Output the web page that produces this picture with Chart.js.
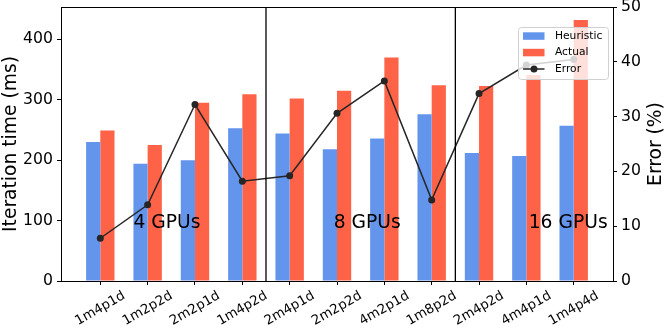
<!DOCTYPE html>
<html>
<head>
<meta charset="utf-8">
<script src="https://cdn.jsdelivr.net/npm/chart.js@4.4.0/dist/chart.umd.min.js"></script>
<style>
  body { margin: 0; background: #fff; }
  canvas { display: block; }
</style>
</head>
<body>
<canvas id="chartCanvas" width="664" height="332"></canvas>
<script>
// configs on x axis
const CATEGORIES = ["1m4p1d", "1m2p2d", "2m2p1d", "1m4p2d", "2m4p1d", "2m2p2d",
                    "4m2p1d", "1m8p2d", "2m4p2d", "4m4p1d", "1m4p4d"];
const HEURISTIC = [230, 194, 200, 253, 244, 218, 236, 276, 212, 207, 257];  // ms
const ACTUAL = [249, 225, 295, 309, 302, 315, 370, 324, 323, 341, 432];     // ms
const ERROR_PCT = [7.8, 13.9, 32.2, 18.2, 19.2, 30.6, 36.5, 14.8, 34.2, 39.4, 40.4];

// group separators and labels
const SEPARATORS = [3.5, 7.5];
const GROUP_LABELS = ["4 GPUs", "8 GPUs", "16 GPUs"];
const GROUP_X = [0.7, 4.93, 9.05];
const GROUP_Y = 96;

const LEFT_TICKS = [0, 100, 200, 300, 400];
const RIGHT_TICKS = [0, 10, 20, 30, 40, 50];

const BLUE = "#6495ED";
const RED = "#FF6347";
const LINE = "#262626";
const FONT = "'DejaVu Sans', sans-serif";

function toXY(values) {
  return values.map((v, i) => ({x: i, y: v}));
}

const decorPlugin = {
  id: "decor",
  afterDatasetsDraw(chart) {
    const ctx = chart.ctx;
    const area = chart.chartArea;
    const xs = chart.scales.x;
    const ys = chart.scales.y;
    ctx.save();

    // separators between gpu groups
    ctx.strokeStyle = "#000";
    ctx.lineWidth = 1.3;
    SEPARATORS.forEach(s => {
      let px = xs.getPixelForValue(s);
      ctx.beginPath();
      ctx.moveTo(px, area.top);
      ctx.lineTo(px, area.bottom);
      ctx.stroke();
    });

    // top spine
    ctx.lineWidth = 1;
    ctx.beginPath();
    ctx.moveTo(area.left, area.top + 0.5);
    ctx.lineTo(area.right, area.top + 0.5);
    ctx.stroke();

    // group labels
    ctx.fillStyle = "#000";
    ctx.font = "18.7px " + FONT;
    ctx.textAlign = "left";
    ctx.textBaseline = "middle";
    for (let i = 0; i < GROUP_LABELS.length; i++) {
      ctx.fillText(GROUP_LABELS[i], xs.getPixelForValue(GROUP_X[i]), ys.getPixelForValue(GROUP_Y));
    }

    // x tick labels, rotated 30deg, centred under tick (matplotlib style)
    ctx.font = "13.3px " + FONT;
    ctx.textAlign = "center";
    ctx.textBaseline = "middle";
    const rot = 30 * Math.PI / 180;
    const h = 13.3 * 1.17;
    CATEGORIES.forEach((c, i) => {
      let w = ctx.measureText(c).width;
      let H = w * Math.sin(rot) + h * Math.cos(rot);
      ctx.save();
      ctx.translate(xs.getPixelForValue(i), area.bottom + 7 + H / 2);
      ctx.rotate(-rot);
      ctx.fillText(c, 0, 0);
      ctx.restore();
    });

    // axis titles
    ctx.font = "18.7px " + FONT;
    ctx.save();
    ctx.translate(11, (area.top + area.bottom) / 2);
    ctx.rotate(-Math.PI / 2);
    ctx.fillText("Iteration time (ms)", 0, 0);
    ctx.restore();
    ctx.save();
    ctx.translate(656, (area.top + area.bottom) / 2);
    ctx.rotate(-Math.PI / 2);
    ctx.fillText("Error (%)", 0, 0);
    ctx.restore();

    // legend box (semi transparent, upper right)
    const lx = 518, ly = 27, lw = 90, lh = 52;
    ctx.fillStyle = "rgba(255,255,255,0.8)";
    ctx.strokeStyle = "#d0d0d0";
    ctx.lineWidth = 1;
    ctx.beginPath();
    ctx.roundRect(lx + 0.5, ly + 0.5, lw, lh, 3);
    ctx.fill();
    ctx.stroke();

    const rows = [ly + 9, ly + 25.5, ly + 42];
    ctx.fillStyle = BLUE;
    ctx.fillRect(523, rows[0] - 3.7, 21.5, 7.5);
    ctx.fillStyle = RED;
    ctx.fillRect(523, rows[1] - 3.7, 21.5, 7.5);
    ctx.strokeStyle = LINE;
    ctx.lineWidth = 1.5;
    ctx.beginPath();
    ctx.moveTo(523, rows[2]);
    ctx.lineTo(544.5, rows[2]);
    ctx.stroke();
    ctx.fillStyle = LINE;
    ctx.beginPath();
    ctx.arc(534, rows[2], 3.5, 0, 2 * Math.PI);
    ctx.fill();

    ctx.fillStyle = "#000";
    ctx.font = "10.7px " + FONT;
    ctx.textAlign = "left";
    ctx.textBaseline = "middle";
    ctx.fillText("Heuristic", 555, rows[0]);
    ctx.fillText("Actual", 555, rows[1]);
    ctx.fillText("Error", 555, rows[2]);

    ctx.restore();
  }
};

const tickGrid = {display: true, drawOnChartArea: false, drawTicks: true, tickLength: 4, color: "#000", lineWidth: 1};

// no extra room for half tick labels at the ends of the y axes
function fixWidth(w) {
  return s => { s.width = w; s.paddingTop = 0; s.paddingBottom = 0; };
}

new Chart(document.getElementById("chartCanvas").getContext("2d"), {
  type: "bar",
  data: {
    datasets: [
      {
        type: "line",
        label: "Error",
        data: toXY(ERROR_PCT),
        yAxisID: "y1",
        borderColor: LINE,
        backgroundColor: LINE,
        borderWidth: 1.5,
        pointRadius: 3.5,
        pointBackgroundColor: LINE,
        pointBorderWidth: 0,
        tension: 0,
        order: 0
      },
      {
        label: "Heuristic",
        data: toXY(HEURISTIC),
        yAxisID: "y",
        backgroundColor: BLUE,
        borderWidth: 0,
        categoryPercentage: 0.6,
        barPercentage: 1.0,
        order: 1
      },
      {
        label: "Actual",
        data: toXY(ACTUAL),
        yAxisID: "y",
        backgroundColor: RED,
        borderWidth: 0,
        categoryPercentage: 0.6,
        barPercentage: 1.0,
        order: 1
      }
    ]
  },
  options: {
    responsive: false,
    animation: false,
    devicePixelRatio: 1,
    layout: { padding: {top: 7, left: 0, right: 0, bottom: 0} },
    plugins: {
      legend: { display: false },
      tooltip: { enabled: false }
    },
    scales: {
      x: {
        type: "linear",
        min: -0.83,
        max: 10.83,
        offset: false,
        grid: Object.assign({}, tickGrid, {offset: false}),
        border: { display: true, color: "#000", width: 1 },
        ticks: { display: false },
        afterBuildTicks: s => { s.ticks = CATEGORIES.map((c, i) => ({value: i})); },
        afterFit: s => { s.height = 51; s.paddingLeft = 0; s.paddingRight = 0; }
      },
      y: {
        type: "linear",
        position: "left",
        min: 0,
        max: 453.6,
        grid: tickGrid,
        border: { display: true, color: "#000", width: 1 },
        ticks: { color: "#000", padding: 4, font: { family: FONT, size: 15.7 } },
        afterBuildTicks: s => { s.ticks = LEFT_TICKS.map(v => ({value: v})); },
        afterFit: fixWidth(61)
      },
      y1: {
        type: "linear",
        position: "right",
        min: 0,
        max: 50,
        grid: tickGrid,
        border: { display: true, color: "#000", width: 1 },
        ticks: { color: "#000", padding: 4, font: { family: FONT, size: 15.7 } },
        afterBuildTicks: s => { s.ticks = RIGHT_TICKS.map(v => ({value: v})); },
        afterFit: fixWidth(51)
      }
    }
  },
  plugins: [decorPlugin]
});
</script>
</body>
</html>
